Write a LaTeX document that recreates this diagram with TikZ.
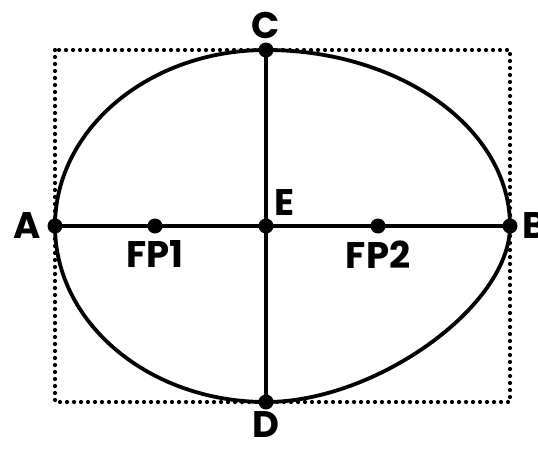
\documentclass[tikz,border=0pt]{standalone}
\usepackage{fontspec}
\setmainfont{Poppins}
\usetikzlibrary{positioning}

\begin{document}
\begin{tikzpicture}[
  x=1pt, y=-1pt,
  node distance=4pt,
  pt/.style={circle, fill=black, inner sep=0pt, minimum size=15pt},
  lbl/.style={font=\fontsize{37}{40}\selectfont\bfseries, inner sep=1pt},
  axis/.style={line width=3.6pt, black},
  curve/.style={line width=3.8pt, black},
  box/.style={line width=4.2pt, line cap=round, dash pattern=on 0pt off 7pt},
]
\useasboundingbox (0,0) rectangle (538,450);
\node[pt] (E) at (266,226) {};
\node[pt] (A) at (55,226) {};
\node[pt] (B) at (510,226) {};
\node[pt] (C) at (266,50) {};
\node[pt] (D) at (266,402) {};
\node[pt] (fp1) at (155,226) {};
\node[pt] (fp2) at (378,226) {};
% labels
\node[lbl, left=5pt of A] (lA) {A};
\node[lbl, right=4pt of B] (lB) {B};
\node[lbl, above=2pt of C] (lC) {C};
\node[lbl, below=1pt of D] (lD) {D};
\node[lbl, above right=4pt and 2pt of E] (lE) {E};
\node[lbl, below=6pt of fp1] (lfp1) {FP1};
\node[lbl, below=6pt of fp2] (lfp2) {FP2};
% frame
\draw[box] (A.center |- C.center) rectangle (B.center |- D.center);
% outline (y axis points down here)
\draw[curve] (D.center)
  arc[start angle=90, end angle=180, x radius=211, y radius=176]
  arc[start angle=180, end angle=270, x radius=211, y radius=176]
  arc[start angle=270, end angle=360, x radius=244, y radius=176]
  .. controls (510,306) and (376,402) .. (D.center);
\draw[axis] (A.center) -- (B.center);
\draw[axis] (C.center) -- (D.center);
\end{tikzpicture}
\end{document}
